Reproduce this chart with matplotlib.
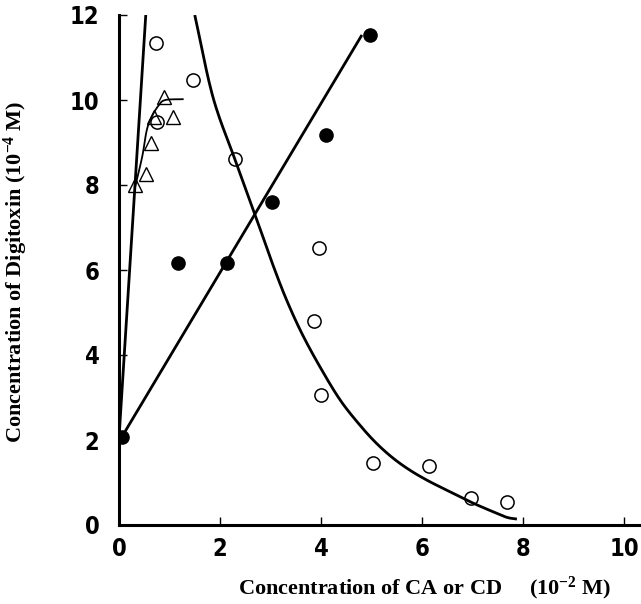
import matplotlib
matplotlib.use("Agg")
import matplotlib.pyplot as plt
import numpy as np

# ---------------- data ----------------
# Filled circles
filled_x = [0.05, 1.16, 2.14, 3.02, 4.10, 4.97]
filled_y = [2.06, 6.17, 6.17, 7.59, 9.18, 11.53]
# fitted straight line through filled circles
filled_line_x = [0.05, 4.81]
filled_line_y = [2.06, 11.53]

# Open circles
open_x = [0.73, 1.47, 0.76, 2.29, 3.97, 3.86, 4.00, 5.02, 6.14, 6.98, 7.68]
open_y = [11.34, 10.47, 9.48, 8.62, 6.52, 4.81, 3.06, 1.45, 1.39, 0.63, 0.53]
# Decreasing curve (traced)
curve_x = [1.50, 1.86, 2.29, 2.59, 2.79, 3.06, 3.32, 3.62, 3.98, 4.38, 4.77,
           5.10, 5.43, 5.76, 6.09, 6.42, 6.75, 7.02, 7.41, 7.68, 7.88]
curve_y = [12.0, 10.07, 8.62, 7.63, 6.98, 6.08, 5.29, 4.51, 3.72, 2.94, 2.35,
           1.92, 1.57, 1.29, 1.06, 0.86, 0.67, 0.51, 0.31, 0.18, 0.14]

# Open triangles
tri_x = [0.32, 0.53, 0.63, 0.70, 0.89, 1.06]
tri_y = [8.00, 8.26, 9.00, 9.61, 10.08, 9.61]
# Saturating curve through triangles
tri_curve_x = [0.32, 0.46, 0.55, 0.65, 0.79, 0.92, 1.28]
tri_curve_y = [7.96, 8.67, 9.29, 9.61, 9.88, 10.00, 10.02]

# Steep straight line
steep_x = [0.0, 0.53]
steep_y = [2.05, 12.0]

x_ticks = [0, 2, 4, 6, 8, 10]
y_ticks = [0, 2, 4, 6, 8, 10, 12]


def smooth(xs, ys, n=20):
    """Catmull-Rom rendering of a hand-drawn curve through the given points."""
    p = np.column_stack([xs, ys]).astype(float)
    p = np.vstack([2 * p[0] - p[1], p, 2 * p[-1] - p[-2]])
    out = []
    t = np.linspace(0, 1, n, endpoint=False)[:, None]
    for i in range(1, len(p) - 2):
        p0, p1, p2, p3 = p[i - 1], p[i], p[i + 1], p[i + 2]
        seg = 0.5 * ((2 * p1) + (-p0 + p2) * t + (2 * p0 - 5 * p1 + 4 * p2 - p3) * t ** 2
                     + (-p0 + 3 * p1 - 3 * p2 + p3) * t ** 3)
        out.append(seg)
    out.append(p[-2][None, :])
    out = np.vstack(out)
    return out[:, 0], out[:, 1]


# ---------------- fonts ----------------
label_font = "Liberation Serif"
plt.rcParams["mathtext.fontset"] = "custom"
plt.rcParams["mathtext.rm"] = "Liberation Serif:bold"
plt.rcParams["mathtext.bf"] = "Liberation Serif:bold"
plt.rcParams["mathtext.it"] = "Liberation Serif:bold"

# ---------------- figure ----------------
W, H = 641, 604
fig = plt.figure(figsize=(W / 100, H / 100), dpi=100)
x0, y0, x1, y1 = 119, 525, 641, 15
ax = fig.add_axes([x0 / W, 1 - y0 / H, (x1 - x0) / W, (y0 - y1) / H])

ax.set_xlim(0, (x1 - x0) / 50.5)
ax.set_ylim(0, 12)

lw = 2.0
ax.plot(filled_line_x, filled_line_y, color="black", lw=lw, solid_capstyle="butt")
ax.plot(steep_x, steep_y, color="black", lw=lw, solid_capstyle="butt")
cx, cy = smooth(curve_x, curve_y)
ax.plot(cx, cy, color="black", lw=lw, solid_capstyle="butt")
tx, ty = smooth(tri_curve_x, tri_curve_y)
ax.plot(tx, ty, color="black", lw=1.3, solid_capstyle="butt")

ax.plot(filled_x, filled_y, "o", ms=9.5, mfc="black", mec="black", mew=1.0, ls="none", zorder=4)
ax.plot(open_x, open_y, "o", ms=9.5, mfc="none", mec="black", mew=1.1, ls="none", zorder=4)
ax.plot(tri_x, tri_y, "^", ms=9.5, mfc="none", mec="black", mew=1.0, ls="none", zorder=4)

for s in ["top", "right"]:
    ax.spines[s].set_visible(False)
for s in ["left", "bottom"]:
    ax.spines[s].set_linewidth(2.2)

ax.set_xticks(x_ticks)
ax.set_yticks(y_ticks)
ax.tick_params(direction="in", length=6, width=1.0, pad=9, labelsize=17)
ax.tick_params(axis="y", pad=14)
for lab in ax.get_xticklabels() + ax.get_yticklabels():
    lab.set_fontfamily("DejaVu Sans")
    lab.set_fontstretch("condensed")
    lab.set_fontweight("bold")

fig.text(425 / W, 1 - 588 / H, "Concentration of CA or CD     (10$^{-2}$ M)",
         ha="center", va="center", fontsize=16, fontweight="bold", family=label_font)
fig.text(16 / W, 1 - 272 / H, "Concentration of Digitoxin (10$^{-4}$ M)",
         ha="center", va="center", rotation=90, fontsize=16, fontweight="bold", family=label_font)

fig.savefig("out.png", dpi=100)
